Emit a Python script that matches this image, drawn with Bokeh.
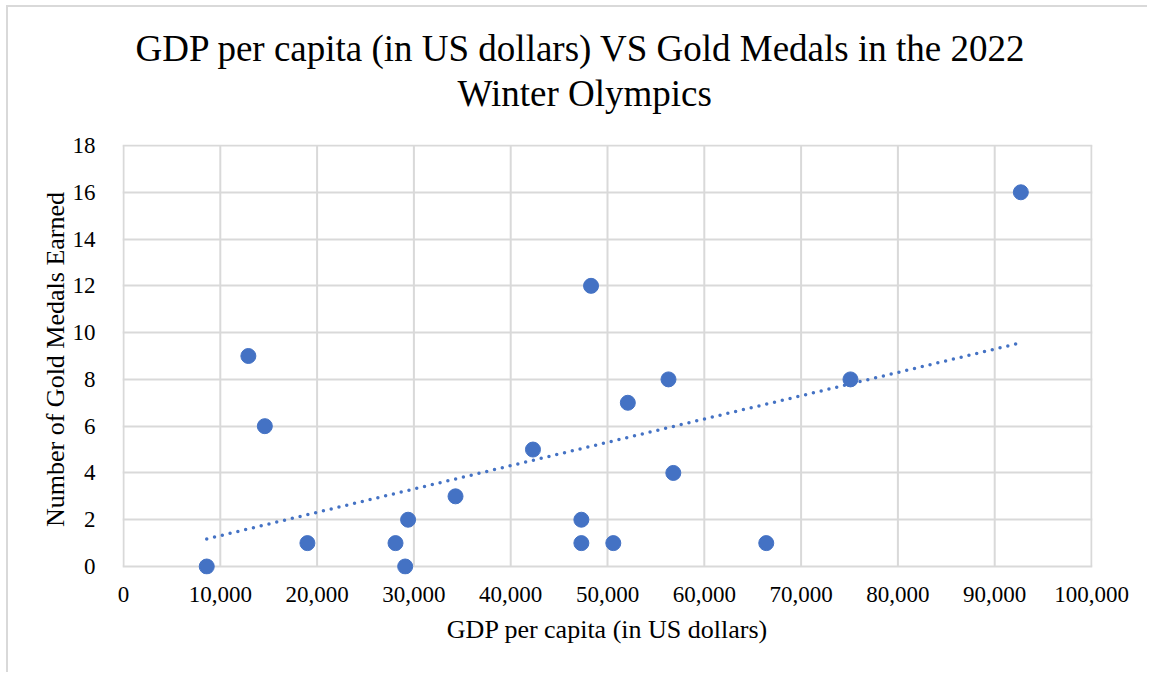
import numpy as np
from bokeh.plotting import figure
from bokeh.models import (Range1d, SingleIntervalTicker, NumeralTickFormatter, Title)
from bokeh.embed import file_html
from bokeh.resources import INLINE

# GDP per capita (US$) and gold medals won at the 2022 Winter Olympics
gdp_per_capita = [8600, 12900, 14600, 19000, 28100, 29100, 29400, 34300, 42300,
                  47300, 47300, 48300, 50600, 52100, 56300, 56800, 66400, 75100, 92700]
gold_medals = [0, 9, 6, 1, 1, 0, 2, 3, 5, 2, 1, 12, 1, 7, 8, 4, 1, 8, 16]

x_ticks = [0, 10000, 20000, 30000, 40000, 50000, 60000, 70000, 80000, 90000, 100000]
y_max = 18

title_lines = ["GDP per capita (in US dollars) VS Gold Medals in the 2022", "Winter Olympics"]
x_label = "GDP per capita (in US dollars)"
y_label = "Number of Gold Medals Earned"

FONT = "Liberation Serif"
BLUE = "#4472C4"
GRID = "#d9d9d9"

# A little room below zero so markers sitting on the zero line are drawn whole
p = figure(width=1141, height=667, output_backend="svg", toolbar_location=None,
           x_range=Range1d(-103, 100103), y_range=Range1d(-0.342, 18.043),
           min_border_left=114, min_border_right=57, min_border_top=137, min_border_bottom=100)
p.styles = {"margin-left": "6px", "margin-top": "5px",
            "border-left": f"2px solid {GRID}", "border-top": f"2px solid {GRID}"}

# Two title lines centred over the whole chart; the first one added sits closest to the plot area
p.title = None
for line, gap, shift in zip(reversed(title_lines), [62, -58], [335, 13]):
    p.add_layout(Title(text=line, align="left", offset=shift, text_font=FONT,
                       text_font_size="37px", text_font_style="normal",
                       text_color="#000000", standoff=gap), "above")

# Grid: horizontal lines from the y ticker, vertical lines only between 0 and the top value
p.xgrid.visible = False
p.ygrid.ticker = SingleIntervalTicker(interval=2)
p.ygrid.grid_line_color = GRID
p.ygrid.grid_line_width = 2
p.segment(x0=x_ticks, y0=[0] * len(x_ticks), x1=x_ticks, y1=[y_max] * len(x_ticks),
          line_color=GRID, line_width=2, level="underlay")

# Least-squares linear trend over the observed range
x = np.array(gdp_per_capita, dtype=float)
y = np.array(gold_medals, dtype=float)
slope, intercept = np.polyfit(x, y, 1)
tx = np.array([x.min(), x.max()])
p.line(tx, slope * tx + intercept, line_color=BLUE, line_width=3.5,
       line_dash="0 8", line_cap="round")

p.scatter(gdp_per_capita, gold_medals, size=15, fill_color=BLUE, line_color=BLUE)

p.xaxis.ticker = SingleIntervalTicker(interval=10000)
p.yaxis.ticker = SingleIntervalTicker(interval=2)
p.xaxis.formatter = NumeralTickFormatter(format="0,0")

for ax in (p.xaxis, p.yaxis):
    ax.major_tick_line_color = None
    ax.minor_tick_line_color = None
    ax.axis_line_color = None
    ax.major_label_text_font = FONT
    ax.major_label_text_font_size = "23px"
    ax.major_label_text_color = "#000000"
    ax.axis_label_text_font = FONT
    ax.axis_label_text_font_size = "26px"
    ax.axis_label_text_font_style = "normal"
    ax.axis_label_text_color = "#000000"

p.xaxis.axis_label = x_label
p.yaxis.axis_label = y_label
p.xaxis.major_label_standoff = 6
p.yaxis.major_label_standoff = 21
p.xaxis.axis_label_standoff = 10
p.yaxis.axis_label_standoff = 0

p.outline_line_color = None
p.background_fill_color = "white"
p.border_fill_color = "white"

open("out.html", "w").write(file_html(p, INLINE))
